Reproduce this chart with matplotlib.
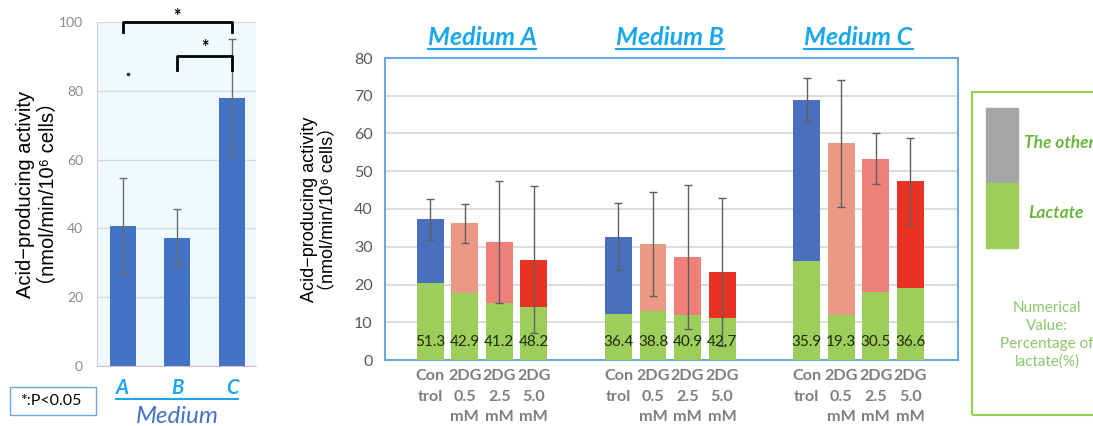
import numpy as np
import matplotlib
matplotlib.use("Agg")
import matplotlib.pyplot as plt
from matplotlib.patches import Rectangle
from matplotlib.lines import Line2D

# ---- data: left panel (overall per medium) ----
media = ["A", "B", "C"]
overall_mean = [40.7, 37.3, 78.0]
overall_err = [14.0, 8.2, 17.0]

# ---- data: right panel (2DG treatment, stacked lactate / other) ----
treatments = ["Con\ntrol", "2DG\n0.5\nmM", "2DG\n2.5\nmM", "2DG\n5.0\nmM"]
group_titles = ["Medium A", "Medium B", "Medium C"]
total_A = [37.3, 36.2, 31.3, 26.6]
total_B = [32.7, 30.8, 27.2, 23.2]
total_C = [69.0, 57.4, 53.3, 47.4]
lactate_A = [20.5, 17.7, 15.0, 14.1]
lactate_B = [12.2, 13.1, 11.9, 11.1]
lactate_C = [26.3, 11.8, 18.0, 19.2]
err_A = [5.4, 5.2, 16.2, 19.4]
err_B = [8.9, 13.8, 19.1, 19.6]
err_C = [5.8, 16.8, 6.8, 11.4]
pct_A = ["51.3", "42.9", "41.2", "48.2"]
pct_B = ["36.4", "38.8", "40.9", "42.7"]
pct_C = ["35.9", "19.3", "30.5", "36.6"]

totals = [total_A, total_B, total_C]
lactates = [lactate_A, lactate_B, lactate_C]
errs = [err_A, err_B, err_C]
pcts = [pct_A, pct_B, pct_C]

BLUE = "#4472C4"
TREAT_COLORS = ["#4A6FBE", "#EA9A84", "#EE8079", "#E83223"]
GREEN = "#9DCE5C"
SKY = "#1AA7EC"
GRAY_TXT = "#7F7F7F"
YLAB = "Acid\u2212producing activity\n\uff08nmol/min/10\u2076 cells\uff09"
YLAB_FONT = ["Liberation Sans", "DejaVu Sans", "Noto Sans CJK JP"]

plt.rcParams["font.family"] = ["Lato", "DejaVu Sans"]

fig = plt.figure(figsize=(10.93, 4.26), dpi=100)
W, H = 1093, 426


def fig_axes(x0, y0, x1, y1):
    return fig.add_axes([x0 / W, 1 - y1 / H, (x1 - x0) / W, (y1 - y0) / H])


def underline(txt, color, lw=1.5, pad=2):
    fig.canvas.draw()
    bb = txt.get_window_extent()
    y = bb.y0 - pad
    fig.add_artist(Line2D([bb.x0 / W, bb.x1 / W], [y / H, y / H],
                          transform=fig.transFigure, color=color, lw=lw))


# ================= left panel =================
axL = fig_axes(97, 22, 256, 366)
axL.set_facecolor("#F0FAFC")
xL = np.arange(len(media))
axL.bar(xL, overall_mean, width=0.47, color=BLUE, zorder=3)
axL.errorbar(xL, overall_mean, yerr=overall_err, fmt="none", ecolor="#6d6d6d",
             elinewidth=1, capsize=3, capthick=1, zorder=4)
axL.set_xlim(-0.47, 2.44)
axL.set_ylim(0, 100)
axL.set_yticks(np.arange(0, 101, 20))
axL.yaxis.grid(True, color="#D9D9D9", lw=1)
axL.set_axisbelow(True)
axL.tick_params(axis="y", length=0, pad=10, labelsize=10, labelcolor="#8C8C8C")
axL.set_xticks([])
for s in ["top", "right"]:
    axL.spines[s].set_visible(False)
axL.spines["left"].set_color("#D0D0D0")
axL.spines["bottom"].set_color("#C8C8C8")

# significance brackets
axL.plot([0, 0, 2, 2], [97, 100, 100, 97], color="black", lw=2, clip_on=False, zorder=5)
axL.text(1, 101.5, "*", ha="center", va="center", fontsize=13, fontweight="bold")
axL.plot([1, 1, 2, 2], [86, 90, 90, 86], color="black", lw=2, clip_on=False, zorder=5)
axL.text(1.5, 92.5, "*", ha="center", va="center", fontsize=13, fontweight="bold")
axL.plot([0.09], [85], marker="s", ms=1.5, color="#333333")

axL.set_ylabel(YLAB, fontsize=14.5, family=YLAB_FONT, linespacing=1.2, labelpad=1)

lab_objs = []
for i, m in enumerate(media):
    t = axL.text(xL[i], -3.5, m, ha="center", va="top", fontsize=14.5,
                 fontweight="bold", style="italic", color=SKY, clip_on=False)
    lab_objs.append(t)
axL.text(1.0, -11.5, "Medium", ha="center", va="top", fontsize=17.5,
         style="italic", color=BLUE, clip_on=False)

fig.add_artist(Rectangle((10 / W, 1 - 415 / H), 86 / W, 28 / H,
                         transform=fig.transFigure, fill=False,
                         edgecolor="#6FA8DC", lw=1))
fig.text(51 / W, 1 - 401 / H, "*:P<0.05", ha="center", va="center", fontsize=11.5)

# ================= main panel =================
axM = fig_axes(385, 58, 958, 360)
gap = 5.45
width = 0.78
for g in range(3):
    xs = g * gap + np.arange(len(treatments))
    tot = np.array(totals[g])
    lac = np.array(lactates[g])
    axM.bar(xs, lac, width=width, color=GREEN, zorder=3)
    axM.bar(xs, tot - lac, bottom=lac, width=width, color=TREAT_COLORS, zorder=3)
    axM.errorbar(xs, tot, yerr=errs[g], fmt="none", ecolor="#5f5f5f",
                 elinewidth=1, capsize=3, capthick=1, zorder=5)
    for x, p in zip(xs, pcts[g]):
        axM.text(x, 4.7, p, ha="center", va="center", fontsize=11,
                 color="#1f2a10", zorder=6)
    for x, lab in zip(xs, treatments):
        axM.text(x, -2.3, lab, ha="center", va="top", fontsize=11.6,
                 fontweight="bold", color=GRAY_TXT, linespacing=1.62,
                 clip_on=False)

axM.set_xlim(-1.31, 3 + 2 * gap + 1.38)
axM.set_ylim(0, 80)
axM.set_yticks(np.arange(0, 81, 10))
axM.set_xticks([])
axM.yaxis.grid(True, color="#D9D9D9", lw=1.3)
axM.set_axisbelow(True)
axM.tick_params(axis="y", length=0, pad=9, labelsize=11.5, labelcolor="#595959")
for s in axM.spines.values():
    s.set_color("#6FA8DC")
    s.set_linewidth(1.5)
axM.set_ylabel(YLAB, fontsize=13, family=YLAB_FONT, linespacing=1.15, labelpad=12)

title_objs = []
for g, tt in enumerate(group_titles):
    t = axM.text(g * gap + 1.5, 82.3, tt, ha="center", va="bottom", fontsize=18,
                 fontweight="bold", style="italic", color=SKY, clip_on=False)
    title_objs.append(t)

# ================= legend box =================
fig.add_artist(Rectangle((972 / W, 1 - 415 / H), 140 / W, 323 / H,
                         transform=fig.transFigure, fill=False,
                         edgecolor="#92D050", lw=1.5))
fig.add_artist(Rectangle((986 / W, 1 - 183 / H), 32 / W, 75 / H,
                         transform=fig.transFigure, color="#A5A5A5"))
fig.add_artist(Rectangle((986 / W, 1 - 248 / H), 32 / W, 65 / H,
                         transform=fig.transFigure, color=GREEN))
fig.text(1024 / W, 1 - 143 / H, "The other", ha="left", va="center",
         fontsize=12.5, fontweight="bold", style="italic", color="#6DB33F")
fig.text(1028 / W, 1 - 213 / H, "Lactate", ha="left", va="center",
         fontsize=12.5, fontweight="bold", style="italic", color="#6DB33F")
fig.text(1047 / W, 1 - 335 / H, "Numerical\nValue:\nPercentage of\nlactate(%)",
         ha="center", va="center", fontsize=11, color="#8CC66A", linespacing=1.35)

# underlines
for t in title_objs:
    underline(t, SKY, lw=1.5, pad=0)
fig.canvas.draw()
b0 = lab_objs[0].get_window_extent()
b2 = lab_objs[-1].get_window_extent()
fig.add_artist(Line2D([b0.x0 / W, b2.x1 / W], [(b0.y0 - 1) / H, (b0.y0 - 1) / H],
                      transform=fig.transFigure, color=SKY, lw=1.5))

fig.savefig("out.png", dpi=100)
